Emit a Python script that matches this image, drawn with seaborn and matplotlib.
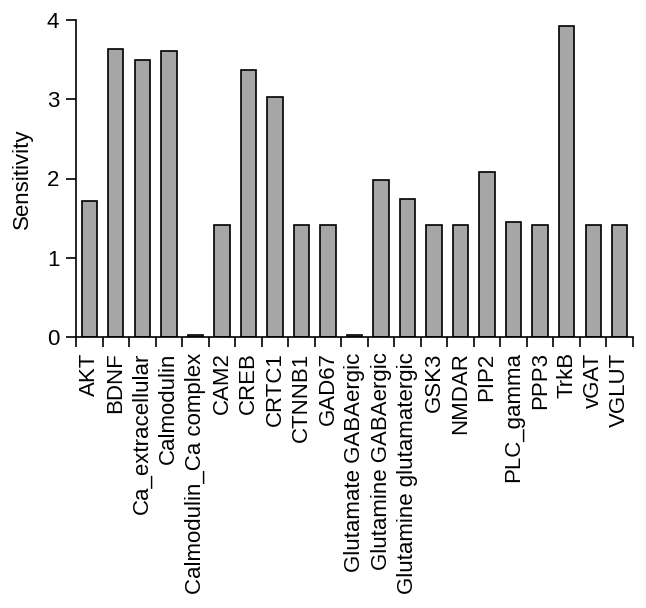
import matplotlib
matplotlib.use("Agg")
import matplotlib.pyplot as plt
import seaborn as sns
import pandas as pd
import numpy as np

genes = ["AKT", "BDNF", "Ca_extracellular", "Calmodulin", "Calmodulin_Ca complex",
         "CAM2", "CREB", "CRTC1", "CTNNB1", "GAD67", "Glutamate GABAergic",
         "Glutamine GABAergic", "Glutamine glutamatergic", "GSK3", "NMDAR", "PIP2",
         "PLC_gamma", "PPP3", "TrkB", "vGAT", "VGLUT"]
sensitivity = [1.71, 3.63, 3.49, 3.61, 0.03, 1.41, 3.37, 3.03, 1.41, 1.41, 0.03,
               1.98, 1.74, 1.41, 1.41, 2.08, 1.45, 1.41, 3.93, 1.41, 1.41]

df = pd.DataFrame({"gene": genes, "sens": sensitivity})

sns.set_style("ticks")
plt.rcParams["font.family"] = ["Liberation Sans", "DejaVu Sans"]
plt.rcParams["text.color"] = "black"
plt.rcParams["axes.labelcolor"] = "black"
plt.rcParams["xtick.color"] = "black"
plt.rcParams["ytick.color"] = "black"
plt.rcParams["axes.edgecolor"] = "black"

fig = plt.figure(figsize=(6.46, 6.08), dpi=100)
ax = fig.add_axes([76 / 646, 1 - 337 / 608, (633 - 76) / 646, (337 - 20) / 608])

sns.barplot(data=df, x="gene", y="sens", order=genes, color="#a6a6a6",
            saturation=1, edgecolor="black", linewidth=1.2, width=0.58, ax=ax)

n = len(genes)
ax.set_xlim(-0.5, n - 0.5)
ax.set_ylim(0, 4)
ax.set_yticks([0, 1, 2, 3, 4])
ax.set_xticks(np.arange(n))
ax.set_xticklabels(genes, rotation=90, fontsize=16)
ax.set_xticks(np.arange(n + 1) - 0.5, minor=True)
ax.tick_params(axis="x", which="major", length=0, pad=11)
ax.tick_params(axis="x", which="minor", length=7, width=1.2)
ax.tick_params(axis="y", length=7, width=1.2, labelsize=16, pad=5)
ax.set_xlabel("")
ax.set_ylabel("Sensitivity", fontsize=16, labelpad=10)

for s in ["top", "right"]:
    ax.spines[s].set_visible(False)
for s in ["left", "bottom"]:
    ax.spines[s].set_linewidth(1.2)

fig.savefig("out.png", dpi=100)
